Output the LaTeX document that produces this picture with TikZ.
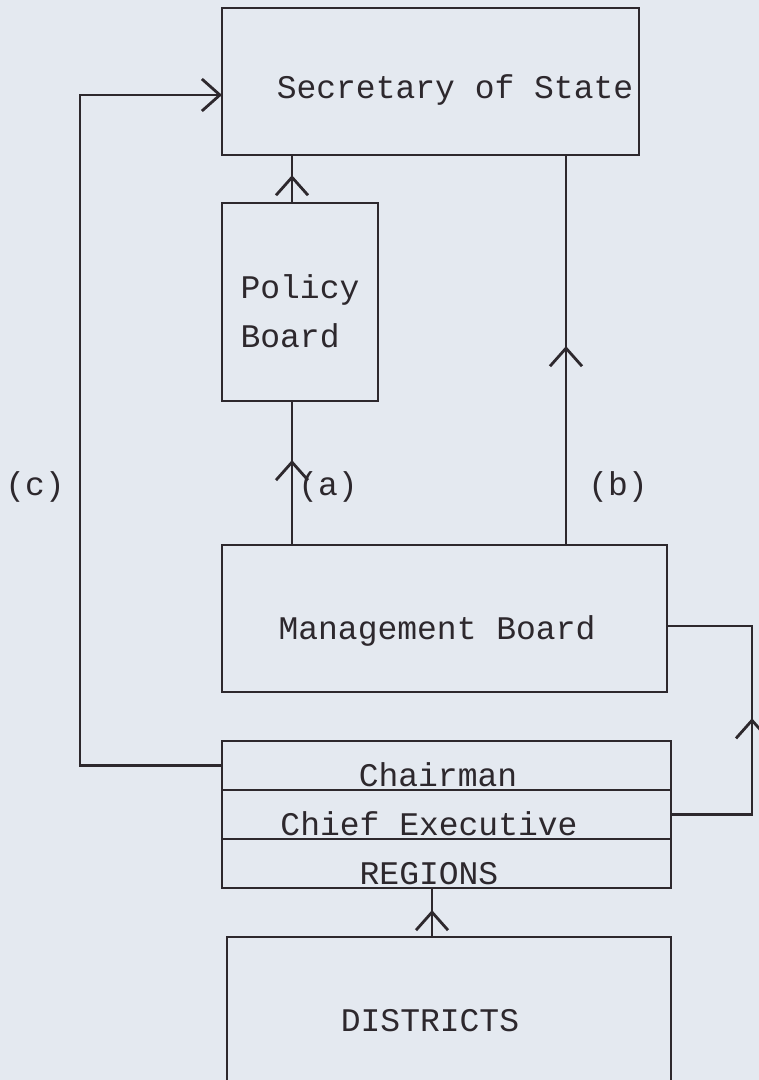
\documentclass[tikz,border=0pt]{standalone}
\usepackage{fontspec}
\newfontfamily\typefont{Liberation Mono}
\definecolor{paperblue}{RGB}{228,233,240}
\definecolor{inkgrey}{RGB}{45,40,45}
\usetikzlibrary{arrows.meta, positioning, decorations.markings}

\begin{document}
\begin{tikzpicture}[
    x=0.5pt, y=-0.5pt,
    font=\typefont\fontsize{16.5}{24.25}\selectfont,
    >={Straight Barb[length=9pt, width=16pt]},
    box/.style={rectangle, draw=inkgrey, line width=1.4pt, outer sep=0pt,
                inner sep=0pt, text=inkgrey},
    lowtext/.style={text height=#1, text depth=0pt},
    lowtext/.default=21pt,
    bigbox/.style={box, lowtext, minimum height=73.5pt},
    rowbox/.style={box, lowtext, minimum width=224.5pt, minimum height=24.5pt},
    link/.style={draw=inkgrey, line width=1.4pt},
    midarr/.style={postaction={decorate},
                   decoration={markings, mark=at position #1 with {\arrow{>}}}},
    tag/.style={text=inkgrey}
  ]
  % Paper
  \useasboundingbox (0,0) rectangle (759,1080);
  \fill[paperblue] (0,0) rectangle (759,1080);
  \clip (0,0) rectangle (759,1080);

  % Boxes
  \node[bigbox, lowtext=17.5pt, minimum width=208.5pt] (sos) at (430.5,81.5) {\hspace*{24.5pt}Secretary of State};
  \node[box, minimum width=78pt, minimum height=99pt, align=left] (pb) at (300,302) {\rule{0pt}{21pt}Policy\\Board};
  \node[bigbox, minimum width=222.5pt] (mgmt) at (444.5,618.5) {\hspace*{-7.5pt}Management Board};

  % Chairman / Chief Executive / Regions stack
  \node[rowbox] (chair) at (446.5,765.5) {\hspace*{-8.5pt}Chairman};
  \node[rowbox, below=0pt of chair] (ceo) {\hspace*{-17.5pt}Chief Executive};
  \node[rowbox, below=0pt of ceo] (regions) {\hspace*{-17.5pt}REGIONS};

  \node[bigbox, minimum width=222pt] (dist) at (449,1010.5) {\hspace*{-19pt}DISTRICTS};

  % Links
  \draw[link, midarr=0.58] ([xshift=-4pt]pb.north) -- ([xshift=-4pt]pb.north |- sos.south);
  \draw[link, midarr=0.59] ([xshift=-4pt]pb.south |- mgmt.north) -- ([xshift=-4pt]pb.south);
  \draw[link, midarr=0.51] ([xshift=60.75pt]mgmt.north) -- ([xshift=60.75pt]mgmt.north |- sos.south);
  \draw[link, ->] (chair.west) -- ++(-142,0) |- ([yshift=-6.75pt]sos.west);
  \draw[link, midarr=0.5] (ceo.east) -- ++(81,0) |- ([yshift=-3.75pt]mgmt.east);
  \draw[link, midarr=0.55] ([xshift=-7.25pt]regions.south |- dist.north) -- ([xshift=-7.25pt]regions.south);

  % Labels
  \node[tag] (lbla) at (328,487) {(a)};
  \node[tag] (lblb) at (618,487) {(b)};
  \node[tag] (lblc) at (35,487) {(c)};
\end{tikzpicture}
\end{document}
